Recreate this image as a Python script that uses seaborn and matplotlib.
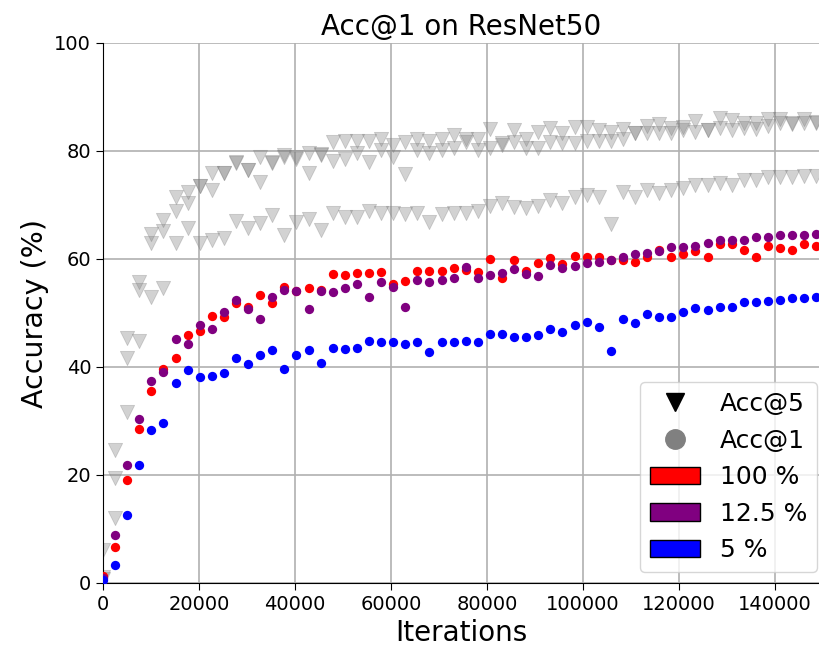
import numpy as np
import pandas as pd
import matplotlib
matplotlib.use("Agg")
import matplotlib.pyplot as plt
from matplotlib.lines import Line2D
from matplotlib.patches import Patch
import seaborn as sns

# iterations (one evaluation every ~2520 iterations)
step = 2520
n_points = 60
iterations = [i * step for i in range(n_points)]

# Acc@1 values
acc1_100 = [1.3, 6.6, 19.1, 28.6, 35.6, 39.6, 41.6, 46.0, 46.7, 49.5,
            49.2, 51.9, 51.1, 53.3, 51.9, 54.8, 54.1, 54.6, 54.3, 57.3,
            57.1, 57.4, 57.4, 57.6, 55.4, 56.0, 57.8, 57.7, 57.7, 58.4,
            58.0, 57.6, 60.0, 56.5, 59.8, 57.7, 59.3, 60.1, 59.0, 60.6,
            60.3, 60.3, 59.9, 59.9, 59.4, 60.3, 61.7, 60.3, 60.9, 61.4,
            60.3, 62.7, 62.7, 61.7, 60.3, 62.5, 62.0, 61.7, 62.7, 62.5]
acc1_12 = [1.0, 8.8, 21.8, 30.3, 37.5, 39.1, 45.1, 44.3, 47.7, 47.0,
           50.1, 52.5, 50.7, 48.9, 53.0, 54.2, 54.0, 50.8, 54.1, 53.8,
           54.6, 55.4, 53.0, 55.7, 54.9, 51.1, 56.2, 55.7, 56.2, 56.5,
           58.5, 56.5, 57.1, 57.5, 58.1, 57.3, 56.8, 58.9, 58.4, 58.7,
           59.2, 59.4, 59.8, 60.3, 60.9, 61.2, 61.5, 62.2, 62.2, 62.5,
           63.0, 63.5, 63.5, 63.5, 64.1, 64.1, 64.4, 64.4, 64.4, 64.6]
acc1_5 = [0.5, 3.4, 12.6, 21.8, 28.3, 29.7, 37.0, 39.4, 38.1, 38.4,
          38.9, 41.6, 40.5, 42.2, 43.2, 39.7, 42.2, 43.2, 40.8, 43.5,
          43.3, 43.5, 44.9, 44.6, 44.6, 44.3, 44.6, 42.7, 44.6, 44.6,
          44.9, 44.6, 46.2, 46.2, 45.6, 45.6, 45.9, 47.0, 46.5, 47.8,
          48.4, 47.5, 43.0, 48.9, 48.1, 49.8, 49.2, 49.2, 50.1, 50.9,
          50.6, 51.1, 51.1, 52.0, 52.0, 52.2, 52.5, 52.8, 52.8, 53.0]

# Acc@5 values
acc5_100 = [6.1, 24.6, 45.3, 55.8, 64.6, 67.2, 71.5, 72.5, 73.5, 75.9,
            76.0, 78.0, 76.5, 78.9, 77.9, 79.2, 78.8, 79.7, 79.4, 81.7,
            81.9, 81.9, 81.9, 82.3, 81.1, 81.6, 82.3, 81.9, 82.3, 83.0,
            82.3, 82.3, 84.0, 81.4, 83.9, 82.3, 83.6, 84.2, 83.3, 84.5,
            84.5, 83.9, 83.6, 84.1, 83.3, 84.6, 85.0, 84.2, 84.5, 85.6,
            83.9, 86.2, 85.7, 85.1, 85.1, 86.0, 86.0, 85.1, 86.0, 85.4]
acc5_12 = [1.2, 19.4, 41.7, 54.3, 62.9, 65.2, 68.9, 70.3, 73.5, 72.7,
           75.9, 77.7, 76.5, 74.3, 77.7, 78.9, 78.6, 75.9, 79.3, 78.2,
           78.6, 79.6, 78.0, 80.2, 78.8, 75.7, 80.2, 79.6, 80.2, 80.5,
           81.7, 80.2, 80.5, 81.2, 81.7, 80.5, 80.5, 81.7, 81.4, 81.4,
           81.9, 81.9, 81.9, 82.3, 83.3, 83.3, 83.3, 83.3, 83.8, 83.6,
           83.8, 84.2, 83.9, 84.2, 84.0, 84.6, 85.1, 85.0, 85.1, 85.1]
acc5_5 = [0.8, 12.0, 31.7, 44.9, 53.0, 54.6, 63.0, 65.7, 63.0, 63.5,
          63.8, 67.1, 65.7, 66.6, 68.1, 64.4, 66.9, 67.5, 65.4, 68.5,
          67.7, 67.8, 68.9, 68.6, 68.5, 68.3, 68.6, 66.8, 68.3, 68.5,
          68.5, 68.9, 69.8, 70.3, 69.7, 69.5, 69.8, 70.9, 70.4, 71.4,
          71.9, 71.5, 66.4, 72.5, 71.4, 72.8, 72.2, 72.8, 73.1, 73.7,
          73.7, 74.0, 73.7, 74.6, 74.6, 75.2, 75.1, 75.1, 75.4, 75.4]

labels = ["100 %", "12.5 %", "5 %"]
colors = ["red", "purple", "blue"]

fig = plt.figure(figsize=(8.2, 6.54), dpi=100)
ax = fig.add_axes([103 / 820, (654 - 583) / 654, (820 - 103) / 820, (583 - 43) / 654])

for acc5 in [acc5_100, acc5_12, acc5_5]:
    df5 = pd.DataFrame({"it": iterations, "acc": acc5})
    sns.scatterplot(data=df5, x="it", y="acc", ax=ax, marker="v", color="gray",
                    alpha=0.35, s=105, edgecolor="gray", linewidth=0.6, zorder=2)

for acc1, col in zip([acc1_100, acc1_12, acc1_5], colors):
    df1 = pd.DataFrame({"it": iterations, "acc": acc1})
    sns.scatterplot(data=df1, x="it", y="acc", ax=ax, marker="o", color=col,
                    s=45, linewidth=0, zorder=3)

ax.set_xlim(0, 149440)
ax.set_ylim(0, 100)
ax.set_xticks([0, 20000, 40000, 60000, 80000, 100000, 120000, 140000])
ax.set_yticks([0, 20, 40, 60, 80, 100])
ax.grid(True, color="#b0b0b0", linewidth=1.2)
ax.set_axisbelow(True)
ax.spines["right"].set_visible(False)
ax.spines["top"].set_visible(False)
ax.tick_params(labelsize=14, length=5)
ax.set_xlabel("Iterations", fontsize=20)
ax.set_ylabel("Accuracy (%)", fontsize=20.5)
ax.set_title("Acc@1 on ResNet50", fontsize=20)

handles = [Line2D([0], [0], marker="v", color="black", linestyle="none", markersize=13),
           Line2D([0], [0], marker="o", color="gray", linestyle="none", markersize=14)]
handles += [Patch(facecolor=c, edgecolor="black") for c in colors]
ax.legend(handles, ["Acc@5", "Acc@1"] + labels, loc="lower right", fontsize=18,
          bbox_to_anchor=(0.996, 0.02), borderaxespad=0)

fig.savefig("out.png", dpi=100)
